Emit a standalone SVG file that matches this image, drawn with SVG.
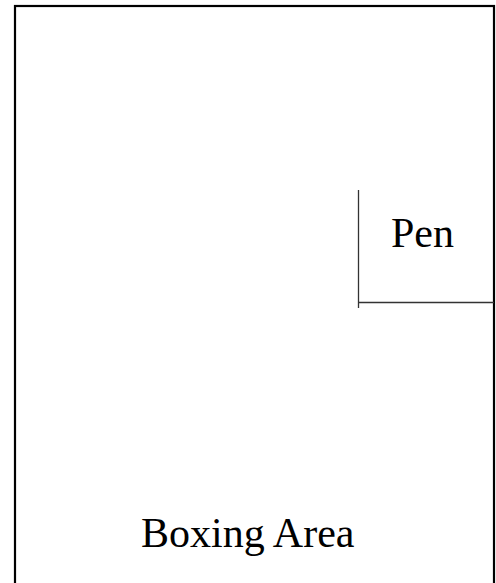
<svg xmlns="http://www.w3.org/2000/svg" width="496" height="583" viewBox="0 0 496 583">
<style>
.t{font-family:"Liberation Serif","Times New Roman",serif;font-size:42px;fill:#000}
.l{stroke:#333;stroke-width:1.3;fill:none}
</style>
<rect width="496" height="583" fill="#fff"/>
<g id="boxing-area">
<rect x="15" y="6" width="479" height="620" fill="none" stroke="#000" stroke-width="2.2"/>
<text class="t" x="141" y="547">Boxing Area</text>
</g>
<g id="pen">
<text class="t" x="391" y="247">Pen</text>
</g>
<g id="connectors">
<line class="l" x1="358.5" y1="190" x2="358.5" y2="308"/>
<line class="l" x1="358" y1="302.5" x2="494" y2="302.5"/>
</g>
</svg>
